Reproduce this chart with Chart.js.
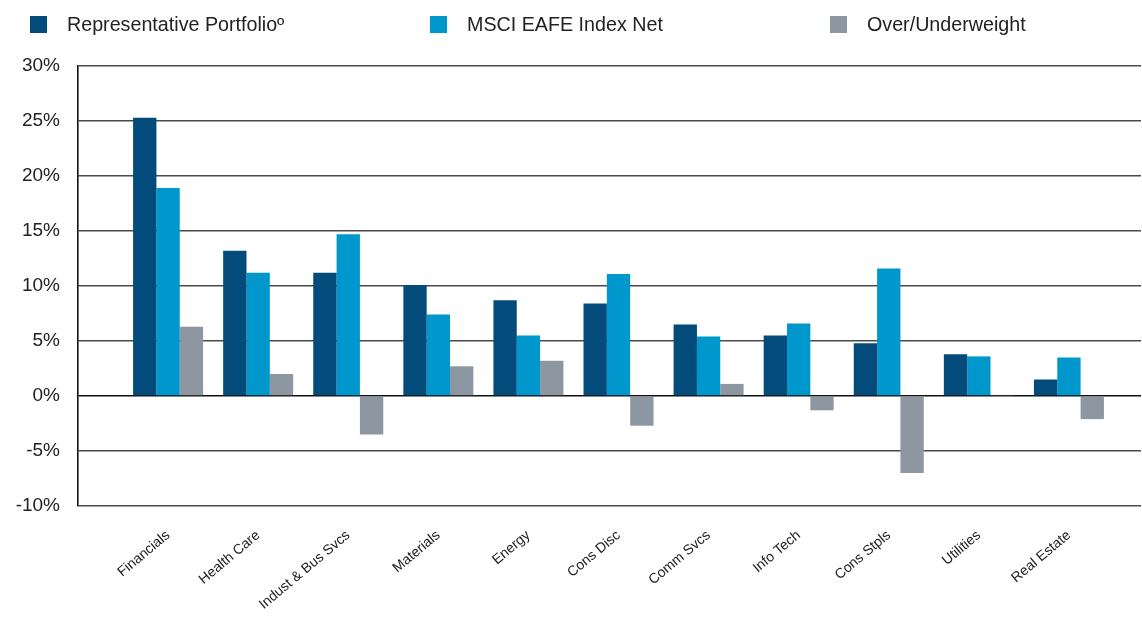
<!DOCTYPE html>
<html>
<head>
<meta charset="utf-8">
<script src="https://cdn.jsdelivr.net/npm/chart.js@4"></script>
<style>
  body { margin: 0; background: #fff; }
  #wrap { position: relative; width: 1142px; height: 620px; }
  #legend { position: absolute; top: 0; left: 0; width: 1142px; height: 50px; font-family: "Liberation Sans", Arial, sans-serif; font-size: 19.7px; color: #222; }
  .item { position: absolute; top: 13px; display: flex; align-items: center; }
  .box { width: 17px; height: 17px; margin-right: 20px; }
</style>
</head>
<body>
<div id="wrap">
  <canvas id="chart" width="1142" height="620"></canvas>
  <div id="legend"></div>
</div>
<script>
// sectors along the x axis
const categories = ["Financials", "Health Care", "Indust & Bus Svcs", "Materials", "Energy", "Cons Disc", "Comm Svcs", "Info Tech", "Cons Stpls", "Utilities", "Real Estate"]

// weights in %
const portfolio = [25.3, 13.2, 11.2, 10.1, 8.7, 8.4, 6.5, 5.5, 4.8, 3.8, 1.5]
const msciEafe = [18.9, 11.2, 14.7, 7.4, 5.5, 11.1, 5.4, 6.6, 11.6, 3.6, 3.5]
const overUnder = [6.3, 2.0, -3.5, 2.7, 3.2, -2.7, 1.1, -1.3, -7.0, 0.1, -2.1]

const seriesNames = ["Representative Portfolio\u00ba", "MSCI EAFE Index Net", "Over/Underweight"]
const seriesColors = ["#024b7b", "#0097cc", "#8d97a2"]

const yTicks = [-10, -5, 0, 5, 10, 15, 20, 25, 30]

// build a legend with fixed spacing like the original
const legendEl = document.getElementById("legend")
seriesNames.forEach(function (name, i) {
  const item = document.createElement("div")
  item.className = "item"
  item.style.left = 30 + i * 400 + "px"
  item.innerHTML = '<span class="box" style="background:' + seriesColors[i] + '"></span><span>' + name + "</span>"
  legendEl.appendChild(item)
})

// bars use a linear x scale so the groups can sit where they do in the picture
function toPoints(values) {
  return values.map(function (v, i) {
    return { x: i, y: v }
  })
}

const allSeries = [portfolio, msciEafe, overUnder]

const canvasRef = document.getElementById("chart")
const myChart = new Chart(canvasRef, {
  type: "bar",
  data: {
    datasets: allSeries.map(function (values, i) {
      return {
        label: seriesNames[i],
        data: toPoints(values),
        backgroundColor: seriesColors[i],
        categoryPercentage: 0.777,
        barPercentage: 1,
      }
    }),
  },
  options: {
    responsive: false,
    animation: false,
    layout: { padding: { top: 66, right: 1, left: 0, bottom: 0 } },
    plugins: {
      legend: { display: false },
      tooltip: { enabled: false },
    },
    scales: {
      x: {
        type: "linear",
        offset: false,
        min: -1,
        max: 10.8,
        grid: { display: false, drawTicks: false },
        border: { display: false },
        afterBuildTicks: function (scale) {
          scale.ticks = categories.map(function (c, i) {
            return { value: i }
          })
        },
        afterFit: function (scale) {
          scale.height = 114
        },
        ticks: {
          autoSkip: false,
          minRotation: 40,
          maxRotation: 40,
          padding: 21,
          color: "#222",
          font: { family: "'Liberation Sans', Arial, sans-serif", size: 14 },
          callback: function (value) {
            return categories[value]
          },
        },
      },
      y: {
        min: -10,
        max: 30,
        afterBuildTicks: function (scale) {
          scale.ticks = yTicks.map(function (v) {
            return { value: v }
          })
        },
        afterFit: function (scale) {
          scale.width = 78
        },
        grid: {
          color: function (ctx) {
            return ctx.tick && ctx.tick.value === 0 ? "#111" : "#4a4a4a"
          },
          lineWidth: 1.6,
          drawTicks: false,
        },
        border: { display: true, color: "#111", width: 1.6 },
        ticks: {
          padding: 18,
          color: "#222",
          font: { family: "'Liberation Sans', Arial, sans-serif", size: 19 },
          callback: function (value) {
            return value + "%"
          },
        },
      },
    },
  },
})
</script>
</body>
</html>
